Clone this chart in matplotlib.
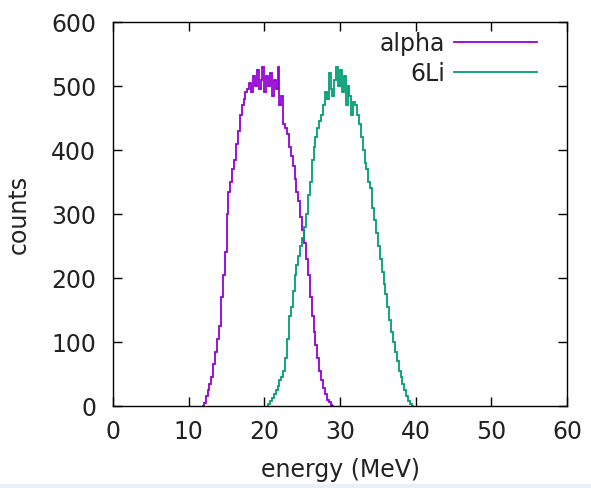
import numpy as np
import matplotlib
matplotlib.use("Agg")
import matplotlib.pyplot as plt

# Histogram data (counts per 0.25 MeV bin)
bin_width = 0.25
alpha_first_edge = 11.75
alpha_counts = [0, 5, 15, 25, 35, 45, 65, 85, 105, 125,
                170, 205, 240, 300, 335, 350, 370, 385, 410, 430,
                455, 470, 480, 490, 495, 505, 490, 515, 500, 525,
                495, 510, 530, 490, 515, 500, 520, 485, 510, 495,
                530, 470, 485, 440, 435, 425, 405, 390, 375, 355,
                335, 320, 295, 275, 255, 230, 205, 170, 140, 115,
                95, 75, 55, 40, 28, 18, 10, 6, 2, 0]
li_first_edge = 20.5
li_counts = [3, 8, 12, 18, 25, 32, 40, 45, 55, 75,
             105, 140, 155, 180, 205, 220, 235, 250, 262, 280,
             300, 330, 350, 385, 405, 420, 435, 445, 455, 470,
             490, 480, 520, 495, 485, 510, 530, 500, 525, 490,
             515, 470, 500, 485, 455, 475, 470, 455, 440, 420,
             400, 380, 370, 350, 340, 310, 290, 270, 250, 230,
             210, 190, 175, 155, 135, 115, 100, 85, 70, 55,
             45, 35, 25, 15, 8, 3, 0]

series_labels = ["alpha", "6Li"]
x_ticks = [0, 10, 20, 30, 40, 50, 60]
y_ticks = [0, 100, 200, 300, 400, 500, 600]

FS = 17
TXT = "#222222"
fig = plt.figure(figsize=(5.91, 4.88), dpi=100)
fig.patch.set_facecolor("white")
ax = fig.add_axes([113/591, 1-406/488, (567-113)/591, (406-22)/488])

alpha_edges = alpha_first_edge + bin_width*np.arange(len(alpha_counts)+1)
li_edges = li_first_edge + bin_width*np.arange(len(li_counts)+1)

ax.stairs(alpha_counts, alpha_edges, color="#9400D3", lw=1.3, label=series_labels[0])
ax.stairs(li_counts, li_edges, color="#009E73", lw=1.3, label=series_labels[1])

ax.set_xlim(0, 60)
ax.set_ylim(0, 600)
ax.set_xticks(x_ticks)
ax.set_yticks(y_ticks)
ax.tick_params(direction="in", length=6.5, width=1, top=True, right=True,
               labelsize=FS, color="black", labelcolor=TXT)
ax.tick_params(axis="x", pad=10)
ax.tick_params(axis="y", pad=12)
for s in ax.spines.values():
    s.set_linewidth(1)
ax.set_xlabel("energy (MeV)", fontsize=FS, labelpad=10, color=TXT)
ax.set_ylabel("counts", fontsize=FS, labelpad=15, color=TXT)

leg = ax.legend(loc="upper right", bbox_to_anchor=(0.934, 0.975), frameon=False,
                markerfirst=False, fontsize=FS, handlelength=3.5,
                handletextpad=0.4, labelspacing=0.25, borderaxespad=0, borderpad=0,
                labelcolor=TXT)

# screenshot bottom strip
fig.patches.append(matplotlib.patches.Rectangle((0, 0), 1, 4/488, transform=fig.transFigure,
                                                facecolor="#e8f0f8", edgecolor="none"))

fig.savefig("out.png", dpi=100)
